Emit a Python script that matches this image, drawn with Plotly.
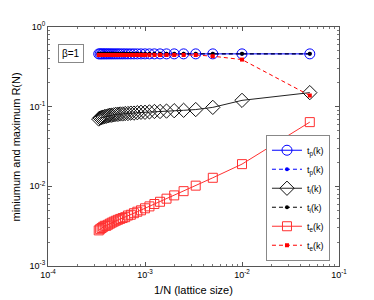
import plotly.graph_objects as go

N = [20] + list(range(100, 3001, 100))
x_inv = [1.0 / n for n in N]

tp_min = [0.46] * len(N)
tp_max = [0.46] * len(N)
ti_min = [0.15, 0.12, 0.098, 0.092, 0.090, 0.089, 0.088, 0.087, 0.087, 0.086, 0.085,
          0.085, 0.084, 0.083, 0.083, 0.082, 0.082, 0.081, 0.081, 0.080, 0.080,
          0.079, 0.078, 0.078, 0.077, 0.076, 0.075, 0.074, 0.073, 0.072, 0.070]
ti_max = [0.46] * len(N)
te_min = [0.064, 0.019, 0.0128, 0.0102, 0.0087, 0.0077, 0.0070, 0.0064, 0.0060, 0.0056, 0.0053,
          0.0050, 0.0048, 0.0046, 0.0044, 0.0043, 0.0041, 0.0040, 0.0039, 0.0038, 0.0037,
          0.0036, 0.0035, 0.0034, 0.0033, 0.0032, 0.0032, 0.0031, 0.0030, 0.0029, 0.0028]
te_max = [0.138, 0.39, 0.43] + [0.445] * (len(N) - 3)

x_tickvals = [1e-4, 1e-3, 1e-2, 1e-1]
x_ticktext = ["10<sup>-4</sup>", "10<sup>-3</sup>", "10<sup>-2</sup>", "10<sup>-1</sup>"]
y_tickvals = [1e-3, 1e-2, 1e-1, 1]
y_ticktext = ["10<sup>-3</sup>", "10<sup>-2</sup>", "10<sup>-1</sup>", "10<sup>0</sup>"]

FONT = "Liberation Sans, Arial, sans-serif"
fig = go.Figure()

fig.add_trace(go.Scatter(x=x_inv, y=tp_min, mode="lines+markers", name="t<sub>p</sub>(k)",
                         line=dict(color="#0000ff", width=1),
                         marker=dict(symbol="circle-open", size=10, color="#0000ff", line=dict(width=1))))
fig.add_trace(go.Scatter(x=x_inv, y=tp_max, mode="lines+markers", name="t<sub>p</sub>(k)",
                         line=dict(color="#0000ff", width=1, dash="4px,3px"),
                         marker=dict(symbol="circle", size=4, color="#0000ff")))
fig.add_trace(go.Scatter(x=x_inv, y=ti_min, mode="lines+markers", name="t<sub>i</sub>(k)",
                         line=dict(color="#222222", width=1),
                         marker=dict(symbol="diamond-open", size=11, color="#111111", line=dict(width=1))))
fig.add_trace(go.Scatter(x=x_inv, y=ti_max, mode="lines+markers", name="t<sub>i</sub>(k)",
                         line=dict(color="#000000", width=1, dash="4px,3px"),
                         marker=dict(symbol="circle", size=4, color="#000000")))
fig.add_trace(go.Scatter(x=x_inv, y=te_min, mode="lines+markers", name="t<sub>e</sub>(k)",
                         line=dict(color="#ff3030", width=1),
                         marker=dict(symbol="square-open", size=9, color="#ff3030", line=dict(width=1))))
fig.add_trace(go.Scatter(x=x_inv, y=te_max, mode="lines+markers", name="t<sub>e</sub>(k)",
                         line=dict(color="#ff0000", width=1, dash="4px,3px"),
                         marker=dict(symbol="square", size=4, color="#ff0000")))

axis_common = dict(type="log", showgrid=False, zeroline=False, showline=True,
                   linecolor="#555555", linewidth=1, mirror="allticks", ticks="inside",
                   ticklen=4, tickcolor="#555555",
                   tickfont=dict(family=FONT, size=9, color="#000000"),
                   minor=dict(ticks="inside", ticklen=2, tickcolor="#777777", dtick="D1"))

fig.update_layout(
    width=366, height=292,
    margin=dict(l=40, r=35, t=14, b=34),
    paper_bgcolor="white", plot_bgcolor="white",
    font=dict(family=FONT, size=10, color="#000000"),
    xaxis=dict(range=[-4, -1], tickvals=x_tickvals, ticktext=x_ticktext, **axis_common),
    yaxis=dict(range=[-3, 0], tickvals=y_tickvals, ticktext=y_ticktext, **axis_common),
    showlegend=True,
    legend=dict(x=0.969, y=0.022, xanchor="right", yanchor="bottom",
                bgcolor="white", bordercolor="#888888", borderwidth=1,
                font=dict(family=FONT, size=9), tracegroupgap=0,
                itemwidth=30),
    annotations=[
        dict(text="β=1", x=0.035, y=0.93, xref="paper", yref="paper", showarrow=False,
             xanchor="left", yanchor="top", bordercolor="#888888", borderwidth=1,
             borderpad=3, bgcolor="white", font=dict(family=FONT, size=10)),
        dict(text="1/N (lattice size)", x=0.5, y=-0.066, xref="paper", yref="paper",
             showarrow=False, yanchor="top", font=dict(family=FONT, size=11)),
        dict(text="miniumum and maximum R(N)", x=-0.11, y=0.5, xref="paper", yref="paper",
             showarrow=False, textangle=-90, xanchor="center", font=dict(family=FONT, size=11)),
    ],
)

fig.write_html("out.html")
